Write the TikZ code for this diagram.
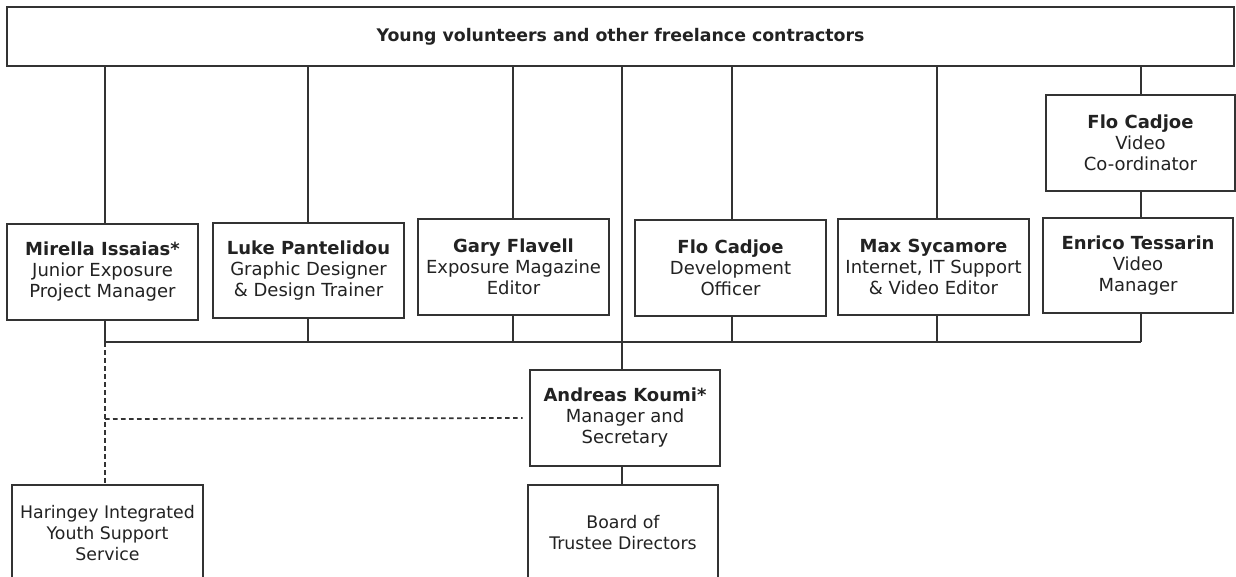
\documentclass[tikz,border=0pt]{standalone}
\usepackage{fontspec}
\setmainfont{DejaVu Sans}
\definecolor{lc}{HTML}{333333}
\definecolor{tc}{HTML}{222222}
\begin{document}
\begin{tikzpicture}[x=0.75pt,y=-0.75pt,
  box/.style={draw=lc, line width=1.2pt, fill=white, inner sep=0pt, align=center,
    font=\fontsize{13.5}{15.75}\selectfont, text=tc},
  bw/.style={box, minimum width=143.25pt, minimum height=72pt},
  lowbox/.style={bw, font=\fontsize{13}{15.75}\selectfont},
  conn/.style={draw=lc, line width=1.3pt},
  dashconn/.style={conn, dash pattern=on 3.5pt off 2.5pt}]
\useasboundingbox (0,0) rectangle (1236,576);
\clip (0,0) rectangle (1236,576);
% coordinates on the bus
\coordinate (b1) at (105,342);
\coordinate (b2) at (308,342);
\coordinate (b3) at (513,342);
\coordinate (c)  at (622,342);
\coordinate (b4) at (732,342);
\coordinate (b5) at (937,342);
\coordinate (b6) at (1141,342);
\coordinate (d1) at (105,419);
% nodes
\node[box, font=\fontsize{13}{15.75}\selectfont, minimum width=920.25pt, minimum height=44.25pt] (top) at (620.5,36.5)
  {\textbf{Young volunteers and other freelance contractors}};
\node[bw] (mir) at (102.5,272) {\textbf{Mirella Issaias*}\\Junior Exposure\\Project Manager};
\node[bw, minimum height=71.25pt] (luke) at (308.5,270.5) {\textbf{Luke Pantelidou}\\Graphic Designer\\\& Design Trainer};
\node[bw] (gary) at (513.5,267) {\textbf{Gary Flavell}\\Exposure Magazine\\Editor};
\node[bw] (flod) at (730.5,268) {\textbf{Flo Cadjoe}\\Development\\Officer};
\node[bw] (max) at (933.5,267) {\textbf{Max Sycamore}\\Internet, IT Support\\\& Video Editor};
\node[bw, minimum width=141.75pt] (flov) at (1140.5,143) {\textbf{Flo Cadjoe}\\Video\\Co-ordinator};
\node[bw, minimum width=142.5pt, minimum height=71.25pt] (enr) at (1138,265.5) {\textbf{Enrico Tessarin}\\Video\\Manager};
\node[bw, minimum width=142.5pt] (and) at (625,418) {\textbf{Andreas Koumi*}\\Manager and\\Secretary};
\node[lowbox] (har) at (107.5,533) {Haringey Integrated\\Youth Support\\Service};
\node[lowbox, minimum width=142.5pt] (board) at (623,533) {Board of\\Trustee Directors};
% connectors from top box
\draw[conn] (top.south -| b1) -- (mir.north -| b1);
\draw[conn] (top.south -| b2) -- (luke.north -| b2);
\draw[conn] (top.south -| b3) -- (gary.north -| b3);
\draw[conn] (top.south -| c) -- (and.north -| c);
\draw[conn] (top.south -| b4) -- (flod.north -| b4);
\draw[conn] (top.south -| b5) -- (max.north -| b5);
\draw[conn] (top.south -| b6) -- (flov.north -| b6);
\draw[conn] (flov.south -| b6) -- (enr.north -| b6);
% down to bus
\draw[conn] (mir.south -| b1) -- (b1);
\draw[conn] (luke.south -| b2) -- (b2);
\draw[conn] (gary.south -| b3) -- (b3);
\draw[conn] (flod.south -| b4) -- (b4);
\draw[conn] (max.south -| b5) -- (b5);
\draw[conn] (enr.south -| b6) -- (b6);
\draw[conn] (b1) -- (b6);
% lower part
\draw[conn] (and.south -| c) -- (board.north -| c);
\draw[dashconn] (b1) -- (har.north -| b1);
\draw[dashconn] (d1) -- ([xshift=-5pt]and.west);
\end{tikzpicture}
\end{document}
